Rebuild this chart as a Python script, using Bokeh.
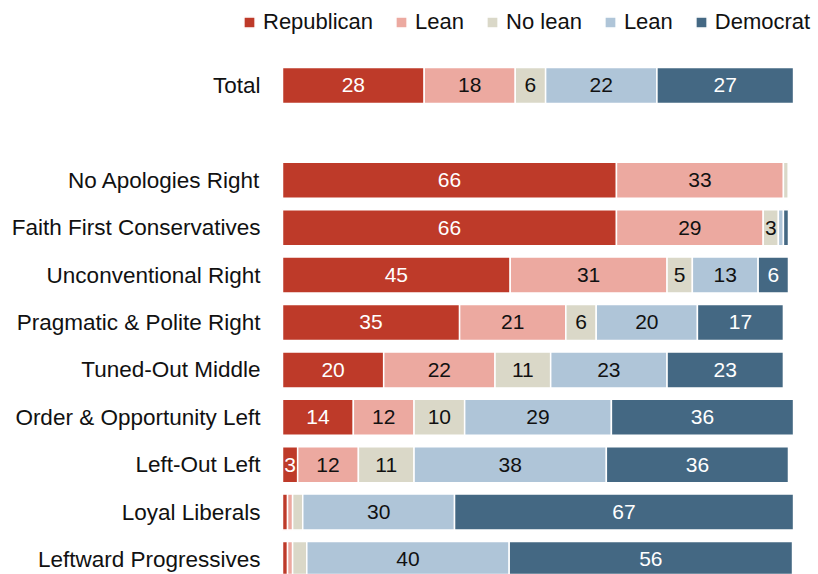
from bokeh.plotting import figure
from bokeh.models import ColumnDataSource, Range1d, Legend, LegendItem
from bokeh.core.properties import value
from bokeh.embed import file_html
from bokeh.resources import INLINE

categories = ["Total", "No Apologies Right", "Faith First Conservatives", "Unconventional Right",
              "Pragmatic & Polite Right", "Tuned-Out Middle", "Order & Opportunity Left",
              "Left-Out Left", "Loyal Liberals", "Leftward Progressives"]
republican = [28, 66, 66, 45, 35, 20, 14, 3, 1, 1]
lean_rep = [18, 33, 29, 31, 21, 22, 12, 12, 1, 1]
no_lean = [6, 1, 3, 5, 6, 11, 10, 11, 2, 2.8]
lean_dem = [22, 0, 1, 13, 20, 23, 29, 38, 30, 40]
democrat = [27, 0, 1, 6, 17, 23, 36, 36, 67, 56]
series_names = ["Republican", "Lean", "No lean", "Lean", "Democrat"]

keys = ["rep", "lrep", "nol", "ldem", "dem"]
colors = ["#BE3A29", "#ECA9A0", "#DAD8C8", "#AFC5D8", "#446883"]
text_colors = ["white", "#111111", "#111111", "#111111", "white"]
series = [republican, lean_rep, no_lean, lean_dem, democrat]

# row positions: Total on top, a blank slot, then the groups
pos = [0] + [i + 2 for i in range(len(categories) - 1)]

FONT = "Liberation Sans"

p = figure(width=818, height=574, output_backend="svg", toolbar_location=None,
           x_range=Range1d(-55.73, 105.93), y_range=Range1d(10.3165, -1.7932),
           min_border_left=0, min_border_right=0, min_border_top=0, min_border_bottom=0)

data = {"y": pos, "name": categories, "zero": [0] * len(pos)}
for k, s in zip(keys, series):
    data[k] = s
src = ColumnDataSource(data)

rends = p.hbar_stack(keys, y="y", height=0.76, color=colors, source=src,
                     line_color="white", line_width=1.5)

# category labels to the left of the bars
p.text(x="zero", y="y", text="name", source=src, x_offset=-22, text_align="right",
       text_baseline="middle", text_font_size="22.5px", text_font=value(FONT),
       text_color="#111111")

# value labels
lx, ly, lt, lc = [], [], [], []
for i, y in enumerate(pos):
    cum = 0
    for j, s in enumerate(series):
        v = s[i]
        if v >= 3:
            lx.append(cum + v / 2)
            ly.append(y)
            lt.append(str(int(v)))
            lc.append(text_colors[j])
        cum += v
lsrc = ColumnDataSource(dict(x=lx, y=ly, t=lt, c=lc))
p.text(x="x", y="y", text="t", text_color="c", source=lsrc, text_align="center",
       text_baseline="middle", text_font_size="21px", text_font=value(FONT))

legend = Legend(items=[LegendItem(label=n, renderers=[r]) for n, r in zip(series_names, rends)],
                orientation="horizontal", location=(242, 539))
legend.label_text_font = FONT
legend.label_text_font_size = "22px"
legend.label_text_color = "#111111"
legend.glyph_width = 14
legend.glyph_height = 14
legend.label_standoff = 7
legend.spacing = 21
legend.padding = 0
legend.margin = 0
legend.border_line_alpha = 0
legend.background_fill_alpha = 0
p.add_layout(legend)

p.xaxis.visible = False
p.yaxis.visible = False
p.xgrid.visible = False
p.ygrid.visible = False
p.outline_line_color = None

open("out.html", "w").write(file_html(p, INLINE))
